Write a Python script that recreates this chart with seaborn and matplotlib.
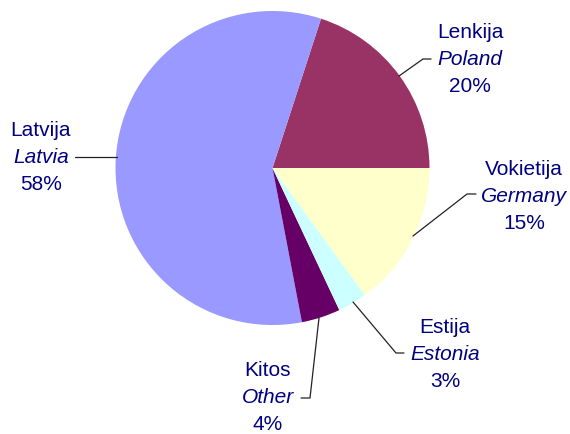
import matplotlib
matplotlib.use("Agg")
import matplotlib.pyplot as plt
import seaborn as sns

# Data (counter-clockwise from 3 o'clock)
labels_lt = ["Lenkija", "Latvija", "Kitos", "Estija", "Vokietija"]
labels_en = ["Poland", "Latvia", "Other", "Estonia", "Germany"]
shares = [20, 58, 4, 3, 15]
colors = ["#993366", "#9999FF", "#660066", "#CCFFFF", "#FFFFCC"]

sns.set_theme(style="white")
plt.rcParams["font.family"] = ["Liberation Sans", "DejaVu Sans"]

W, H = 570, 434
CX, CY, R = 272.5, 168.0, 157.0

def px(x, y):
    return (x - CX) / R, (CY - y) / R

fig = plt.figure(figsize=(W / 100, H / 100), dpi=100)
ax = fig.add_axes([0, 0, 1, 1])
ax.set_xlim(-CX / R, (W - CX) / R)
ax.set_ylim(-(H - CY) / R, CY / R)
ax.set_aspect("equal")
ax.axis("off")

ax.pie(shares, colors=colors, startangle=0, counterclock=True,
       radius=1.0, center=(0, 0), wedgeprops=dict(linewidth=0))
ax.set_xlim(-CX / R, (W - CX) / R)
ax.set_ylim(-(H - CY) / R, CY / R)

# label layout: (x center, baseline of first line) in pixels, leader polyline in pixels
label_pos = [(470, 38), (41, 136), (268, 376), (445, 333), (524, 175)]
leaders = [
    [(399, 76), (423, 59), (431, 59)],
    [(117, 157), (75, 157)],
    [(319, 318), (310, 398), (301, 398)],
    [(353, 302), (396, 353), (404, 353)],
    [(413, 236), (467, 194), (476, 194)],
]

navy = "#000080"
fs = 15
step = 27.0
for lt, en, s, (lx, ly), ld in zip(labels_lt, labels_en, shares, label_pos, leaders):
    for i, (txt, style) in enumerate([(lt, "normal"), (en, "italic"), (f"{s}%", "normal")]):
        x, y = px(lx, ly + i * step)
        ax.text(x, y, txt, ha="center", va="baseline", fontsize=fs,
                color=navy, style=style)
    xs, ys = zip(*[px(a, b) for a, b in ld])
    ax.plot(xs, ys, color="#222222", lw=0.9)

fig.savefig("out.png", dpi=100)
